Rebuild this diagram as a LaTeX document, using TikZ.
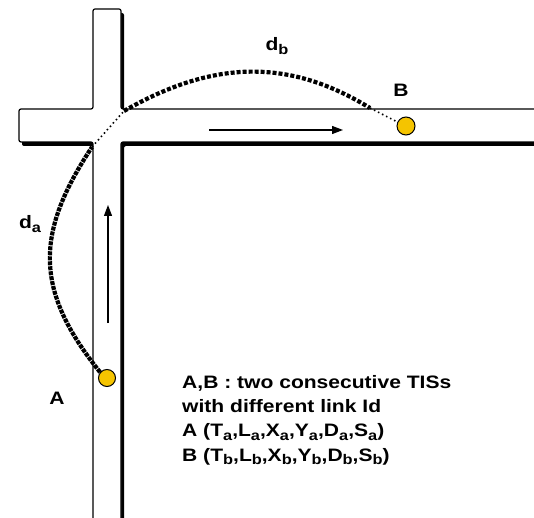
\documentclass[tikz,border=0pt]{standalone}
\usepackage{fontspec}
\setmainfont{Liberation Sans}[FakeStretch=1.17]
\usetikzlibrary{arrows.meta}
\definecolor{TISYellow}{HTML}{F5C400}
\newcommand{\lowsub}[1]{\raisebox{-.4ex}{\fontsize{14}{14}\selectfont #1}}

\begin{document}
\begin{tikzpicture}[x=1pt,y=1pt,
  road/.style={line width=1.2pt,rounded corners=2pt},
  trail/.style={line width=4.2pt,dash pattern=on 4pt off 2pt},
  trailthin/.style={line width=1.6pt,dash pattern=on 1.5pt off 3pt},
  tis/.style={circle,draw,line width=1pt,fill=TISYellow,minimum size=17pt,inner sep=0pt},
  lbl/.style={font=\fontsize{18}{24.3}\selectfont\bfseries,inner sep=0pt},
  flow/.style={line width=1.2pt,-{Triangle[length=11pt,width=8pt]}}]
  \useasboundingbox (0,0) rectangle (534,517);
  \fill[shift={(3,-4)},rounded corners=2pt] (93,508)--(121,508)--(121,408)--(560,408)--(560,375)--(121,375)
    --(121,-20)--(93,-20)--(93,375)--(19,375)--(19,408)--(93,408)--cycle;
  \draw[road,fill=white] (93,508)--(121,508)--(121,408)--(560,408)--(560,375)--(121,375)
    --(121,-20)--(93,-20)--(93,375)--(19,375)--(19,408)--(93,408)--cycle;
  \coordinate (hstart) at (209,387);
  \coordinate (hend) at (343,387);
  \draw[flow] (hstart) -- (hend);
  \coordinate (vstart) at (108,194);
  \coordinate (vend) at (108,312);
  \draw[flow] (vstart) -- (vend);
  \node[tis] (ptA) at (107,139) {};
  \node[tis,minimum size=18pt] (ptB) at (406,391) {};
  \coordinate (crossin) at (92,370);
  \coordinate (crossout) at (124,406);
  \coordinate (bendout) at (370,409);
  \draw[trail,dash pattern=on 4pt off 1pt] (ptA.140) .. controls (33,228) and (36,285) .. (crossin);
  \draw[trailthin] (crossin) -- (crossout);
  \draw[trail] (crossout) .. controls (215,458) and (290,458) .. (bendout);
  \draw[trailthin] (bendout) -- (ptB.155);
  \node[lbl] (labA) at (57,119) {A};
  \node[lbl] (labB) at (401,427) {B};
  \node[lbl] (labda) at (30,293) {d\lowsub{a}};
  \node[lbl] (labdb) at (277,471) {d\lowsub{b}};
  \node[lbl,anchor=north west,align=left] (legend) at (182,142)
    {A,B : two consecutive TISs\\with different link Id\\
     A (T\lowsub{a},L\lowsub{a},X\lowsub{a},Y\lowsub{a},D\lowsub{a},S\lowsub{a})\\
     B (T\lowsub{b},L\lowsub{b},X\lowsub{b},Y\lowsub{b},D\lowsub{b},S\lowsub{b})};
\end{tikzpicture}
\end{document}
